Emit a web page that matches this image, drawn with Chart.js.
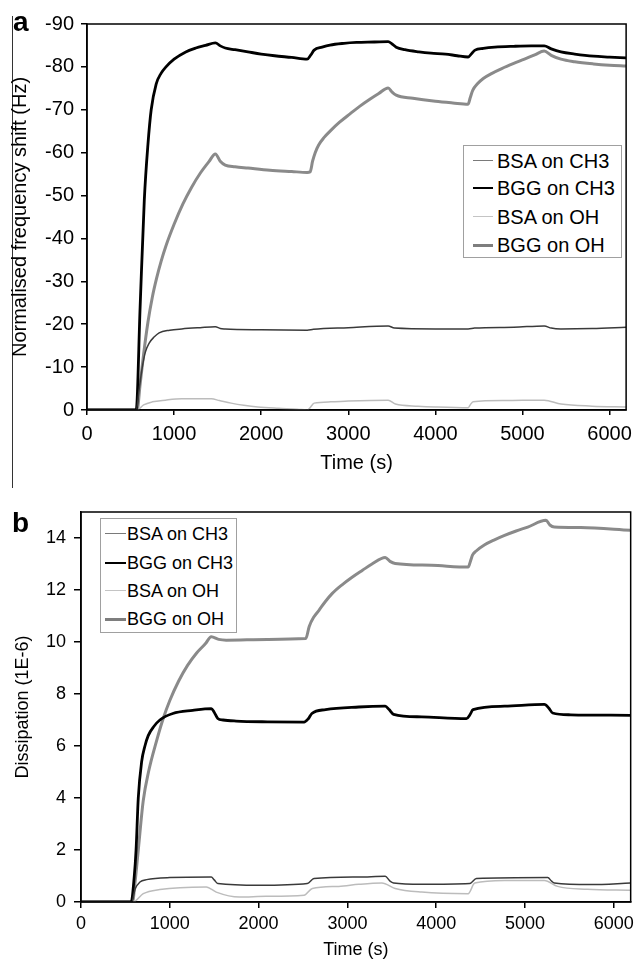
<!DOCTYPE html>
<html>
<head>
<meta charset="utf-8">
<script src="https://cdn.jsdelivr.net/npm/chart.js@4/dist/chart.umd.min.js"></script>
<style>
  body { margin: 0; background: #fff; width: 639px; height: 961px; position: relative; overflow: hidden;
         font-family: 'Liberation Sans', Arial, sans-serif; color: #000; }
  canvas { position: absolute; left: 0; }
  #chartA { top: 0; }
  #chartB { top: 480px; }
  .tag { position: absolute; font-weight: bold; font-size: 28px; line-height: 1; }
  .legend { position: absolute; border: 1px solid #a0a0a0; background: #fff; box-sizing: border-box; }
  .legend .row { position: absolute; left: 0; height: 0; white-space: nowrap; }
  .legend .sample { position: absolute; top: 0; }
  .legend .label { position: absolute; line-height: 1; transform: translateY(-50%); }
  #edge { position: absolute; left: 12px; top: 16px; width: 1px; height: 472px; background: #333; }
</style>
</head>
<body>
<div id="edge"></div>
<canvas id="chartA" width="639" height="480"></canvas>
<canvas id="chartB" width="639" height="481"></canvas>
<div class="tag" style="left:13px; top:8px;">a</div>
<div class="tag" style="left:12px; top:509px;">b</div>
<div id="legendA" class="legend" style="left:463px; top:145px; width:159px; height:113px;"></div>
<div id="legendB" class="legend" style="left:100px; top:518px; width:137px; height:115px;"></div>

<script>
// QCM-D · frequency shift (a) and dissipation (b) vs time

const seriesNames = ['BSA on CH3', 'BGG on CH3', 'BSA on OH', 'BGG on OH'];
const xTicks = [0, 1000, 2000, 3000, 4000, 5000, 6000];
const freqTicks = [-90, -80, -70, -60, -50, -40, -30, -20, -10, 0];
const dissTicks = [0, 2, 4, 6, 8, 10, 12, 14];

// ── panel a: normalised frequency shift (Hz) ──
const freqBsaCh3T = [0, 565, 600, 635, 670, 714, 770, 828, 950, 1088, 1300, 1474, 1530, 1587, 2000, 2528, 2600, 3000, 3458, 3530, 4000, 4376, 4450, 4900, 5250, 5330, 5442, 5800, 6190];
const freqBsaCh3  = [0, 0, -5, -10, -13.5, -15.6, -17, -18, -18.6, -18.9, -19.2, -19.4, -19, -18.9, -18.7, -18.6, -18.8, -19.2, -19.6, -19.1, -18.9, -18.9, -19.1, -19.3, -19.6, -19.1, -18.9, -19, -19.3];

const freqBggCh3T = [0, 565, 610, 658, 700, 737, 794, 850, 907, 1000, 1134, 1250, 1361, 1474, 1530, 1587, 1700, 1848, 2000, 2154, 2350, 2528, 2570, 2608, 2700, 2790, 2950, 3095, 3300, 3458, 3500, 3550, 3650, 3810, 3950, 4116, 4250, 4376, 4420, 4456, 4550, 4683, 4900, 5100, 5250, 5330, 5442, 5600, 5816, 6000, 6190];
const freqBggCh3  = [0, 0, -24, -49, -62, -70, -76, -78.5, -80, -81.8, -83.5, -84.4, -85, -85.6, -84.9, -84.4, -84, -83.5, -83, -82.6, -82.2, -81.8, -82.8, -83.9, -84.6, -85.1, -85.5, -85.7, -85.8, -85.9, -85.4, -84.6, -84, -83.5, -83.2, -83, -82.6, -82.3, -83.2, -83.9, -84.3, -84.6, -84.8, -84.9, -84.9, -84.2, -83.5, -83, -82.5, -82.3, -82.1];

const freqBsaOhT = [0, 575, 650, 750, 900, 1088, 1428, 1520, 1655, 1800, 1961, 2200, 2415, 2528, 2560, 2608, 2800, 3000, 3458, 3541, 3800, 4000, 4376, 4400, 4433, 4800, 5250, 5442, 5800, 6190];
const freqBsaOh  = [0, 0, -1.2, -1.9, -2.3, -2.6, -2.6, -2.2, -1.6, -1.1, -0.7, -0.4, -0.2, 0, -0.5, -1.6, -1.9, -2.1, -2.3, -1.4, -0.9, -0.7, -0.5, -1.2, -1.9, -2.2, -2.3, -1.4, -0.9, -0.7];

const freqBggOhT = [0, 575, 610, 650, 700, 750, 800, 850, 907, 1000, 1100, 1200, 1300, 1400, 1474, 1530, 1587, 1700, 1848, 2100, 2350, 2528, 2562, 2590, 2620, 2660, 2720, 2800, 2900, 3016, 3130, 3243, 3350, 3458, 3500, 3550, 3741, 4000, 4200, 4376, 4400, 4430, 4480, 4550, 4650, 4762, 4900, 5023, 5140, 5250, 5330, 5442, 5600, 5816, 6000, 6190];
const freqBggOh  = [0, 0, -6, -13, -20.5, -26.3, -30.8, -34.6, -38.3, -43.3, -48, -51.9, -55.2, -57.9, -59.7, -58, -57.1, -56.7, -56.4, -55.9, -55.6, -55.4, -55.5, -58, -60, -61.8, -63.5, -65.2, -67.1, -69, -70.8, -72.4, -73.8, -75.1, -74.2, -73.4, -72.7, -72, -71.6, -71.3, -72.8, -74.6, -76, -77.3, -78.5, -79.6, -80.8, -81.8, -82.8, -83.7, -82.7, -81.8, -81.2, -80.7, -80.4, -80.2];

// ── panel b: dissipation (1E-6) ──
const dissBsaCh3T = [0, 570, 610, 664, 739, 1000, 1467, 1500, 1541, 2008, 2549, 2624, 3128, 3426, 3480, 3520, 3837, 4378, 4453, 5256, 5300, 5330, 5740, 6190];
const dissBsaCh3  = [0, 0, 0.5, 0.77, 0.86, 0.94, 0.96, 0.85, 0.71, 0.64, 0.71, 0.9, 0.96, 0.99, 0.8, 0.73, 0.68, 0.71, 0.9, 0.94, 0.8, 0.73, 0.67, 0.73];

const dissBggCh3T = [0, 565, 600, 620, 645, 683, 720, 757, 820, 888, 1034, 1258, 1467, 1500, 1540, 1600, 1747, 2100, 2512, 2560, 2600, 2755, 3128, 3426, 3470, 3520, 3837, 4341, 4380, 4415, 4770, 5218, 5270, 5311, 5516, 6190];
const dissBggCh3  = [0, 0, 1.0, 2.0, 4.0, 5.4, 6.0, 6.4, 6.75, 7.0, 7.25, 7.37, 7.44, 7.3, 7.06, 7.0, 6.96, 6.93, 6.92, 7.05, 7.25, 7.4, 7.5, 7.53, 7.4, 7.22, 7.12, 7.05, 7.2, 7.4, 7.53, 7.6, 7.45, 7.27, 7.2, 7.18];

const dissBsaOhT = [0, 589, 701, 888, 1411, 1523, 1784, 2083, 2512, 2605, 2903, 3128, 3388, 3538, 3837, 4360, 4434, 4770, 5218, 5367, 5703, 6190];
const dissBsaOh  = [0, 0, 0.32, 0.48, 0.58, 0.38, 0.19, 0.22, 0.26, 0.52, 0.6, 0.68, 0.73, 0.52, 0.38, 0.32, 0.73, 0.83, 0.83, 0.6, 0.49, 0.45];

const dissBggOhT = [0, 580, 610, 645, 701, 760, 851, 925, 1000, 1100, 1200, 1300, 1400, 1467, 1550, 1635, 2100, 2531, 2570, 2620, 2680, 2750, 2830, 2940, 3053, 3170, 3277, 3426, 3480, 3538, 3948, 4360, 4385, 4410, 4450, 4546, 4650, 4770, 4900, 5031, 5236, 5280, 5330, 5628, 6190];
const dissBggOh  = [0, 0, 0.8, 2.0, 3.9, 5.0, 6.2, 7.05, 7.75, 8.5, 9.1, 9.57, 9.93, 10.2, 10.1, 10.07, 10.1, 10.13, 10.6, 10.95, 11.22, 11.55, 11.87, 12.2, 12.49, 12.76, 13.0, 13.25, 13.1, 13.02, 12.95, 12.88, 13.1, 13.35, 13.5, 13.74, 13.92, 14.1, 14.27, 14.42, 14.68, 14.5, 14.42, 14.4, 14.3];

// line looks, in series order
const lineColors   = ['#3a3a3a', '#000000', '#bcbcbc', '#8a8a8a'];
const lineWidths   = [1.5, 2.8, 1.5, 3];
const sampleColors = ['#7a7a7a', '#000000', '#c4c4c4', '#7e7e7e'];

const FONT = "'Liberation Sans', Arial, sans-serif";

const pairs = (ts, vs) => ts.map((t, i) => ({ x: t, y: vs[i] }));

function makeDatasets(groups) {
  return groups.map((g, i) => ({
    label: seriesNames[i],
    data: pairs(g[0], g[1]),
    borderColor: lineColors[i],
    borderWidth: lineWidths[i],
    pointRadius: 0,
    fill: false,
    cubicInterpolationMode: 'monotone',
  }));
}

// full box round the plot
const boxFrame = {
  id: 'boxFrame',
  afterDraw(chart) {
    const { ctx, chartArea: a } = chart;
    ctx.save();
    ctx.strokeStyle = '#000';
    ctx.lineWidth = 1.5;
    ctx.strokeRect(a.left, a.top, a.right - a.left, a.bottom - a.top);
    ctx.restore();
  }
};

function axis(opts) {
  return {
    type: 'linear',
    min: opts.min,
    max: opts.max,
    reverse: !!opts.reverse,
    afterFit: opts.fit,
    afterBuildTicks: s => { s.ticks = opts.ticks.map(v => ({ value: v })); },
    ticks: {
      color: '#000',
      font: { family: FONT, size: opts.size },
      padding: opts.pad,
      maxRotation: 0,
      autoSkip: false,
      callback: v => String(v),
    },
    grid: { display: true, drawOnChartArea: false, drawTicks: true, tickLength: opts.tick, color: '#000', lineWidth: 1.5 },
    border: { display: true, color: '#000', width: 1.5 },
    title: {
      display: true,
      text: opts.title,
      color: '#000',
      font: { family: FONT, size: opts.size, lineHeight: 1 },
      padding: opts.titlePad,
    },
  };
}

function buildChart(id, datasets, padding, xOpts, yOpts) {
  return new Chart(document.getElementById(id), {
    type: 'line',
    data: { datasets },
    options: {
      responsive: false,
      animation: false,
      devicePixelRatio: 1,
      layout: { padding },
      plugins: { legend: { display: false }, tooltip: { enabled: false } },
      scales: { x: axis(xOpts), y: axis(yOpts) },
    },
    plugins: [boxFrame],
  });
}

function buildLegend(id, rowTops, sampleLeft, sampleWidth, textLeft, size) {
  const box = document.getElementById(id);
  seriesNames.forEach((name, i) => {
    const row = document.createElement('div');
    row.className = 'row';
    row.style.top = rowTops[i] + 'px';
    const s = document.createElement('div');
    s.className = 'sample';
    s.style.left = sampleLeft + 'px';
    s.style.width = sampleWidth + 'px';
    s.style.borderTop = lineWidths[i] + 'px solid ' + sampleColors[i];
    s.style.marginTop = (-lineWidths[i] / 2) + 'px';
    const t = document.createElement('div');
    t.className = 'label';
    t.style.left = textLeft + 'px';
    t.style.fontSize = size + 'px';
    t.textContent = name;
    row.appendChild(s);
    row.appendChild(t);
    box.appendChild(row);
  });
}

buildChart('chartA',
  makeDatasets([[freqBsaCh3T, freqBsaCh3], [freqBggCh3T, freqBggCh3], [freqBsaOhT, freqBsaOh], [freqBggOhT, freqBggOh]]),
  { left: 0, right: 6, top: 24, bottom: 0 },
  { min: 0, max: 6190, ticks: xTicks, size: 20, pad: 7, tick: 5, title: 'Time (s)', titlePad: { top: 0, bottom: 7 },
    fit: s => { s.height = 70; } },
  { min: -90, max: 0, reverse: true, ticks: freqTicks, size: 20, pad: 7, tick: 6, title: 'Normalised frequency shift (Hz)',
    titlePad: { top: 10, bottom: 0 }, fit: s => { s.width = 87; } }
);

buildChart('chartB',
  makeDatasets([[dissBsaCh3T, dissBsaCh3], [dissBggCh3T, dissBggCh3], [dissBsaOhT, dissBsaOh], [dissBggOhT, dissBggOh]]),
  { left: 0, right: 6, top: 32, bottom: 0 },
  { min: 0, max: 6190, ticks: xTicks, size: 18, pad: 5, tick: 6, title: 'Time (s)', titlePad: { top: 0, bottom: 2 },
    fit: s => { s.height = 59; } },
  { min: 0, max: 15, ticks: dissTicks, size: 18, pad: 8, tick: 7, title: 'Dissipation (1E-6)',
    titlePad: { top: 14, bottom: 0 }, fit: s => { s.width = 81; } }
);

buildLegend('legendA', [15, 42, 71, 99], 9, 20, 33, 20);
buildLegend('legendB', [15, 44, 72, 100], 4, 21, 26, 18);
</script>
</body>
</html>
